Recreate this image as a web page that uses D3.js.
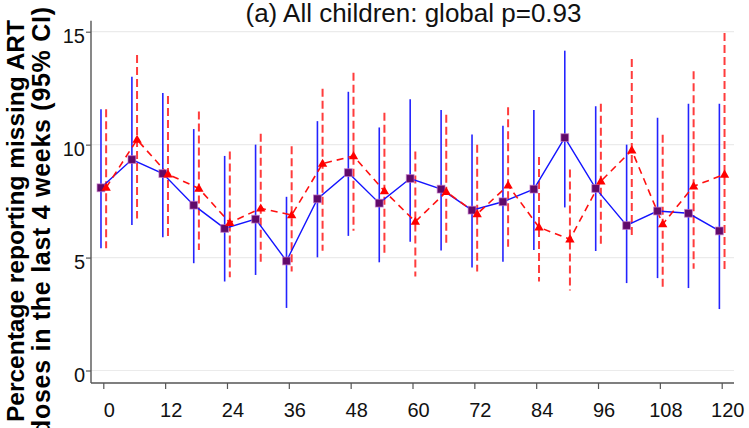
<!DOCTYPE html>
<html>
<head>
<meta charset="utf-8">
<script src="https://cdn.jsdelivr.net/npm/d3@7"></script>
<style>
  html, body { margin: 0; padding: 0; background: #fff; }
  svg { display: block; font-family: "Liberation Sans", Arial, Helvetica, sans-serif; }
</style>
</head>
<body>
<svg id="chart" width="749" height="428"></svg>
<script>
// Follow-up month of each visit
const months = [0, 6, 12, 18, 24, 30, 36, 42, 48, 54, 60, 66, 72, 78, 84, 90, 96, 102, 108, 114, 120];

// Group 1 (blue, solid): estimate and 95% CI
const blueEst = [8.09, 9.34, 8.72, 7.32, 6.29, 6.70, 4.85, 7.60, 8.76, 7.41, 8.50, 8.03, 7.10, 7.47, 8.03, 10.31, 8.06, 6.42, 7.06, 6.96, 6.18];
const blueLo  = [5.41, 6.44, 5.90, 4.75, 3.94, 4.23, 2.77, 5.01, 5.96, 4.79, 5.70, 5.31, 4.56, 4.82, 5.34, 7.22, 5.29, 3.87, 4.09, 3.65, 2.72];
const blueHi  = [11.57, 13.00, 12.29, 10.69, 9.50, 10.00, 7.69, 11.04, 12.34, 10.76, 12.01, 11.53, 10.45, 10.84, 11.53, 14.16, 11.70, 10.00, 11.19, 11.81, 11.81];

// Group 2 (red, dashed): estimate and 95% CI
const redEst = [8.10, 10.22, 8.69, 8.06, 6.54, 7.18, 6.88, 9.16, 9.50, 7.94, 6.59, 7.91, 6.93, 8.20, 6.34, 5.81, 8.38, 9.75, 6.48, 8.16, 8.68];
const redLo  = [5.41, 6.73, 5.90, 5.34, 4.13, 4.68, 4.38, 5.30, 6.19, 5.19, 4.16, 5.56, 4.38, 5.48, 3.94, 3.54, 5.48, 5.90, 3.65, 4.50, 4.41];
const redHi  = [11.57, 13.97, 12.15, 11.47, 9.70, 10.48, 9.93, 12.47, 13.18, 11.41, 9.70, 11.32, 10.00, 11.66, 9.45, 8.90, 11.81, 13.79, 10.44, 13.25, 14.94];

const xTicks = [0, 12, 24, 36, 48, 60, 72, 84, 96, 108, 120];
const yTicks = [0, 5, 10, 15];

const titleText = "(a) All children: global p=0.93";
const yTitleLines = ["Percentage reporting missing ART", "doses in the last 4 weeks (95% CI)"];

const svg = d3.select("#chart");

const x = d3.scaleLinear().domain([0, 120]).range([103.3, 721.7]);
const y = d3.scaleLinear().domain([0, 15]).range([370.5, 31.7]);

const plotLeft = 91, plotRight = 734, plotTop = 20.7, plotBottom = 383;

// horizontal grid
svg.append("g").selectAll("line").data(yTicks).join("line")
  .attr("x1", plotLeft).attr("x2", plotRight)
  .attr("y1", d => y(d)).attr("y2", d => y(d))
  .attr("stroke", "#ebebeb").attr("stroke-width", 1.2);

// axes
const yAxis = d3.axisLeft(y).tickValues(yTicks).tickSize(5).tickSizeOuter(0).tickFormat(d3.format("d"));
const gy = svg.append("g").attr("transform", `translate(${plotLeft},0)`).call(yAxis);
gy.select(".domain").remove();
gy.append("line").attr("x1", 0).attr("x2", 0).attr("y1", plotTop).attr("y2", plotBottom)
  .attr("stroke", "#555").attr("stroke-width", 1.4);
gy.selectAll(".tick line").attr("stroke", "#555").attr("stroke-width", 1.2);
gy.selectAll(".tick text").attr("x", -6).attr("dy", null).attr("y", 11)
  .attr("font-size", 20).attr("fill", "#111").attr("font-family", "Liberation Sans, Arial, sans-serif");

const xAxis = d3.axisBottom(x).tickValues(xTicks).tickSize(6).tickSizeOuter(0);
const gx = svg.append("g").attr("transform", `translate(0,${plotBottom})`).call(xAxis);
gx.select(".domain").remove();
gx.append("line").attr("x1", plotLeft).attr("x2", plotRight).attr("y1", 0).attr("y2", 0)
  .attr("stroke", "#555").attr("stroke-width", 1.4);
gx.selectAll(".tick line").attr("stroke", "#555").attr("stroke-width", 1.2);
gx.selectAll(".tick text").attr("dy", null).attr("y", 34).attr("x", 5.5)
  .attr("font-size", 20).attr("fill", "#111").attr("font-family", "Liberation Sans, Arial, sans-serif");

// build series records
const blue = months.map((m, i) => ({ m, est: blueEst[i], lo: blueLo[i], hi: blueHi[i] }));
const red  = months.map((m, i) => ({ m, est: redEst[i], lo: redLo[i], hi: redHi[i] }));
const blueShift = -0.45, redShift = 0.55; // small horizontal dodge in months

// confidence intervals
svg.append("g").selectAll("line").data(blue).join("line")
  .attr("x1", d => x(d.m + blueShift)).attr("x2", d => x(d.m + blueShift))
  .attr("y1", d => y(d.lo)).attr("y2", d => y(d.hi))
  .attr("stroke", "#2323ff").attr("stroke-width", 1.6);

svg.append("g").selectAll("line").data(red).join("line")
  .attr("x1", d => x(d.m + redShift)).attr("x2", d => x(d.m + redShift))
  .attr("y1", d => y(d.hi)).attr("y2", d => y(d.lo))
  .attr("stroke", "#ff3c3c").attr("stroke-width", 2).attr("stroke-dasharray", "8,4");

// connecting lines
const blueLine = d3.line().x(d => x(d.m + blueShift)).y(d => y(d.est));
const redLine = d3.line().x(d => x(d.m + redShift)).y(d => y(d.est));

svg.append("path").datum(blue).attr("d", blueLine)
  .attr("fill", "none").attr("stroke", "#1414ff").attr("stroke-width", 1.4);
svg.append("path").datum(red).attr("d", redLine)
  .attr("fill", "none").attr("stroke", "#ff1010").attr("stroke-width", 1.6)
  .attr("stroke-dasharray", "7,5");

// markers
svg.append("g").selectAll("rect").data(blue).join("rect")
  .attr("x", d => x(d.m + blueShift) - 3.9).attr("y", d => y(d.est) - 3.9)
  .attr("width", 7.8).attr("height", 7.8)
  .attr("fill", "#600a6a").attr("stroke", "rgba(200,120,200,0.65)").attr("stroke-width", 1);

const tri = d3.symbol().type(d3.symbolTriangle).size(38);
svg.append("g").selectAll("path").data(red).join("path")
  .attr("transform", d => `translate(${x(d.m + redShift)},${y(d.est) + 0.5})`)
  .attr("d", tri).attr("fill", "#ff0000");

// title
svg.append("text").attr("x", 413.5).attr("y", 22).attr("text-anchor", "middle")
  .attr("font-size", 26).attr("fill", "#111").text(titleText);

// y-axis title, two bold lines
const yt = svg.append("g");
yt.append("text").attr("transform", "translate(24,20) rotate(-90)").attr("text-anchor", "end")
  .attr("font-size", 24.5).attr("font-weight", "bold").attr("fill", "#000").text(yTitleLines[0]);
yt.append("text").attr("transform", "translate(50,7) rotate(-90)").attr("text-anchor", "end")
  .attr("font-size", 25).attr("font-weight", "bold").attr("fill", "#000")
  .attr("textLength", 428).attr("lengthAdjust", "spacing").text(yTitleLines[1]);
</script>
</body>
</html>
